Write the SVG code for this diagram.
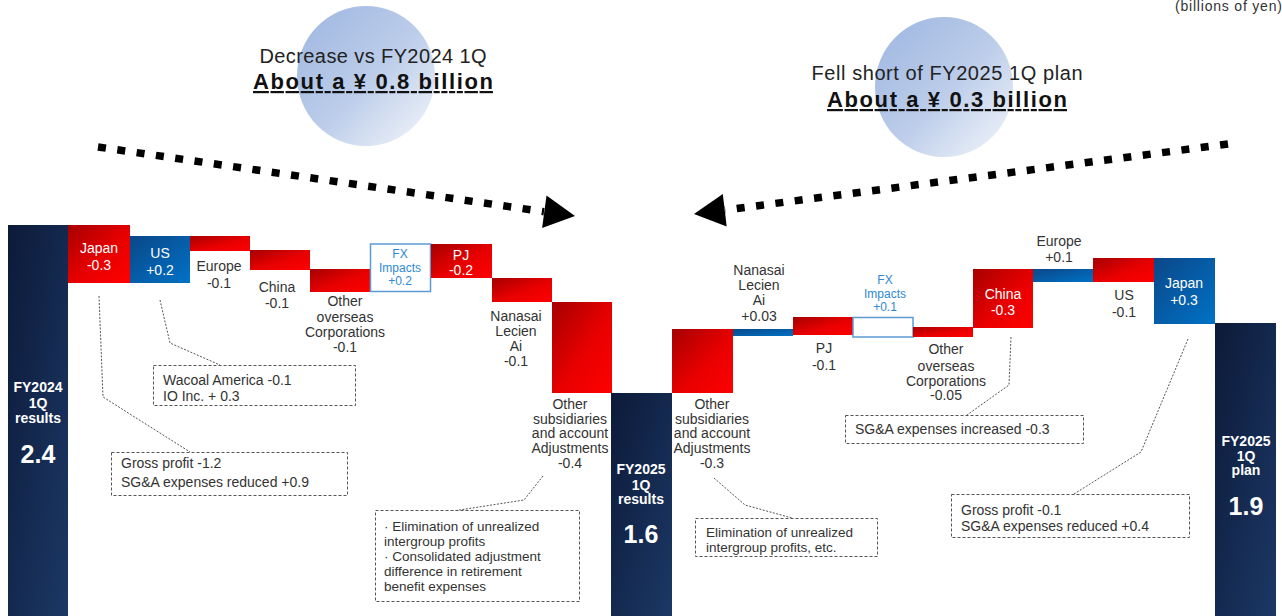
<svg xmlns="http://www.w3.org/2000/svg" width="1282" height="616" viewBox="0 0 1282 616">
<defs>
<linearGradient id="gNavy" x1="0" y1="0" x2="1" y2="1">
<stop offset="0" stop-color="#0c1a38"/><stop offset="1" stop-color="#1c3866"/>
</linearGradient>
<linearGradient id="gRed" x1="0" y1="0" x2="1" y2="1">
<stop offset="0" stop-color="#a60000"/><stop offset="0.55" stop-color="#e80000"/><stop offset="1" stop-color="#ff0000"/>
</linearGradient>
<linearGradient id="gBlue" x1="0" y1="0" x2="1" y2="1">
<stop offset="0" stop-color="#0b4788"/><stop offset="1" stop-color="#0072c6"/>
</linearGradient>
<linearGradient id="gCircle" x1="0.15" y1="0.15" x2="0.9" y2="0.9">
<stop offset="0" stop-color="#a6bce3"/><stop offset="0.5" stop-color="#bccdea"/><stop offset="1" stop-color="#eaeff8"/>
</linearGradient>
<style>
text{font-family:"Liberation Sans",Arial,sans-serif}
.lbl{font-size:14px;fill:#333;text-anchor:middle}
.wl{font-size:14px;fill:#fff;text-anchor:middle}
.fx{font-size:12px;fill:#2f88d4;text-anchor:middle}
.tot{font-size:14px;font-weight:bold;fill:#fff;text-anchor:middle}
.big{font-size:25px;font-weight:bold;fill:#fff;text-anchor:middle}
.note{font-size:14px;fill:#333}
.note2{font-size:13.5px;fill:#333}
.navy{fill:url(#gNavy)}
.red{fill:url(#gRed)}
.blue{fill:url(#gBlue)}
.fxbox{fill:#fff;stroke:#5b9bd5;stroke-width:1.5}
.box{fill:#fff;stroke:#555;stroke-width:1;stroke-dasharray:3 2}
.lead{fill:none;stroke:#555;stroke-width:1;stroke-dasharray:2 1.5}
.darr{fill:none;stroke:#000;stroke-width:7.5;stroke-dasharray:8 11.5}
.head{fill:#000}
.circ{fill:url(#gCircle)}
.h1{font-size:20px;fill:#222;text-anchor:middle}
.h2{font-size:22px;font-weight:bold;fill:#111;text-anchor:middle;text-decoration:underline}
</style>
</defs>
<rect width="1282" height="616" fill="#fff"/>
<text x="1175" y="11" style="font-size:14px;fill:#333;letter-spacing:0.8px">(billions of yen)</text>

<g id="headline-left">
<ellipse class="circ" cx="366" cy="76" rx="69" ry="70"/>
<text class="h1" x="373" y="63" textLength="227" lengthAdjust="spacing">Decrease vs FY2024 1Q</text>
<text class="h2" x="373" y="89" textLength="240" lengthAdjust="spacing">About a ¥ 0.8 billion</text>
</g>
<g id="headline-right">
<ellipse class="circ" cx="944" cy="87" rx="69" ry="70"/>
<text class="h1" x="947" y="80" textLength="271" lengthAdjust="spacing">Fell short of FY2025 1Q plan</text>
<text class="h2" x="947" y="107" textLength="240" lengthAdjust="spacing">About a ¥ 0.3 billion</text>
</g>

<g id="connectors">
<line class="darr" x1="98" y1="147" x2="544" y2="211.7"/>
<polygon class="head" points="575,216 542.1,228 546.5,195.5"/>
<line class="darr" x1="1228" y1="144" x2="725" y2="210"/>
<polygon class="head" points="694,214 722.8,194 726.7,226.5"/>
<polyline class="lead" points="160,300 170,343 220,365"/>
<polyline class="lead" points="99,296 103,397 190,452"/>
<polyline class="lead" points="543,476 524,500 453,511"/>
<polyline class="lead" points="714,478 745,505 792,518"/>
<polyline class="lead" points="1011,337 1009,385 967,415"/>
<polyline class="lead" points="1188,339 1141,452 1074,494"/>
</g>

<g id="fy2024-results">
<rect class="navy" x="8" y="225" width="60" height="391"/>
<text class="tot" x="38" y="392">FY2024</text>
<text class="tot" x="38" y="408">1Q</text>
<text class="tot" x="38" y="423">results</text>
<text class="big" x="38" y="463">2.4</text>
</g>
<g id="l-japan">
<rect class="red" x="68" y="225" width="62" height="58"/>
<text class="wl" x="99" y="253">Japan</text>
<text class="wl" x="99" y="270">-0.3</text>
</g>
<g id="l-us">
<rect class="blue" x="130" y="236" width="60" height="47"/>
<text class="wl" x="160" y="258">US</text>
<text class="wl" x="160" y="275">+0.2</text>
</g>
<g id="l-europe">
<rect class="red" x="190" y="236" width="60" height="15"/>
<text class="lbl" x="219" y="271">Europe</text>
<text class="lbl" x="219" y="288">-0.1</text>
</g>
<g id="l-china">
<rect class="red" x="250" y="250" width="60" height="20"/>
<text class="lbl" x="277" y="292">China</text>
<text class="lbl" x="277" y="308">-0.1</text>
</g>
<g id="l-other-overseas">
<rect class="red" x="310" y="269" width="60" height="23"/>
<text class="lbl" x="345" y="306">Other</text>
<text class="lbl" x="345" y="322">overseas</text>
<text class="lbl" x="345" y="337">Corporations</text>
<text class="lbl" x="345" y="352">-0.1</text>
</g>
<g id="l-fx">
<rect class="fxbox" x="370.5" y="244" width="60" height="47.5"/>
<text class="fx" x="400" y="258">FX</text>
<text class="fx" x="400" y="272">Impacts</text>
<text class="fx" x="400" y="285">+0.2</text>
</g>
<g id="l-pj">
<rect class="red" x="431" y="244" width="61" height="34"/>
<text class="wl" x="461" y="260">PJ</text>
<text class="wl" x="461" y="275">-0.2</text>
</g>
<g id="l-nanasai">
<rect class="red" x="492" y="278" width="60" height="24"/>
<text class="lbl" x="516" y="321">Nanasai</text>
<text class="lbl" x="516" y="336">Lecien</text>
<text class="lbl" x="516" y="351">Ai</text>
<text class="lbl" x="516" y="366">-0.1</text>
</g>
<g id="l-other-subs">
<rect class="red" x="552" y="302" width="60" height="91"/>
<text class="lbl" x="570" y="409">Other</text>
<text class="lbl" x="570" y="424">subsidiaries</text>
<text class="lbl" x="570" y="438">and account</text>
<text class="lbl" x="570" y="453">Adjustments</text>
<text class="lbl" x="570" y="468">-0.4</text>
</g>
<g id="fy2025-results">
<rect class="navy" x="611" y="393" width="61" height="223"/>
<text class="tot" x="641" y="474">FY2025</text>
<text class="tot" x="641" y="490">1Q</text>
<text class="tot" x="641" y="504">results</text>
<text class="big" x="641" y="543">1.6</text>
</g>
<g id="r-other-subs">
<rect class="red" x="672" y="329" width="61" height="64"/>
<text class="lbl" x="712" y="409">Other</text>
<text class="lbl" x="712" y="424">subsidiaries</text>
<text class="lbl" x="712" y="438">and account</text>
<text class="lbl" x="712" y="453">Adjustments</text>
<text class="lbl" x="712" y="468">-0.3</text>
</g>
<g id="r-nanasai">
<rect class="blue" x="733" y="329" width="60" height="7"/>
<text class="lbl" x="759" y="275">Nanasai</text>
<text class="lbl" x="759" y="290">Lecien</text>
<text class="lbl" x="759" y="305">Ai</text>
<text class="lbl" x="759" y="321">+0.03</text>
</g>
<g id="r-pj">
<rect class="red" x="793" y="317" width="60" height="18"/>
<text class="lbl" x="824" y="353">PJ</text>
<text class="lbl" x="824" y="370">-0.1</text>
</g>
<g id="r-fx">
<rect class="fxbox" x="853" y="317.5" width="60" height="19.5"/>
<text class="fx" x="885" y="284">FX</text>
<text class="fx" x="885" y="298">Impacts</text>
<text class="fx" x="885" y="311">+0.1</text>
</g>
<g id="r-other-overseas">
<rect class="red" x="913" y="327" width="60" height="10"/>
<text class="lbl" x="946" y="354">Other</text>
<text class="lbl" x="946" y="371">overseas</text>
<text class="lbl" x="946" y="386">Corporations</text>
<text class="lbl" x="946" y="400">-0.05</text>
</g>
<g id="r-china">
<rect class="red" x="973" y="269" width="60" height="59"/>
<text class="wl" x="1003" y="299">China</text>
<text class="wl" x="1003" y="315">-0.3</text>
</g>
<g id="r-europe">
<rect class="blue" x="1033" y="269" width="60" height="13"/>
<text class="lbl" x="1059" y="246">Europe</text>
<text class="lbl" x="1059" y="262">+0.1</text>
</g>
<g id="r-us">
<rect class="red" x="1093" y="258" width="61" height="24"/>
<text class="lbl" x="1124" y="300">US</text>
<text class="lbl" x="1124" y="317">-0.1</text>
</g>
<g id="r-japan">
<rect class="blue" x="1154" y="258" width="61" height="66"/>
<text class="wl" x="1184" y="288">Japan</text>
<text class="wl" x="1184" y="305">+0.3</text>
</g>
<g id="fy2025-plan">
<rect class="navy" x="1215" y="323" width="61" height="293"/>
<text class="tot" x="1246" y="446">FY2025</text>
<text class="tot" x="1246" y="461">1Q</text>
<text class="tot" x="1246" y="475">plan</text>
<text class="big" x="1246" y="515">1.9</text>
</g>

<g id="note-us">
<rect class="box" x="153.5" y="365.5" width="202" height="40"/>
<text class="note" x="163" y="385">Wacoal America -0.1</text>
<text class="note" x="163" y="401">IO Inc. + 0.3</text>
</g>
<g id="note-japan-left">
<rect class="box" x="111.5" y="452.5" width="236" height="43"/>
<text class="note" x="121" y="468">Gross profit -1.2</text>
<text class="note" x="121" y="487">SG&amp;A expenses reduced +0.9</text>
</g>
<g id="note-subs-left">
<rect class="box" x="375.5" y="510.5" width="204" height="91"/>
<text class="note2" x="384" y="531">· Elimination of unrealized</text>
<text class="note2" x="384" y="546">intergroup profits</text>
<text class="note2" x="384" y="561">· Consolidated adjustment</text>
<text class="note2" x="384" y="576">difference in retirement</text>
<text class="note2" x="384" y="591">benefit expenses</text>
</g>
<g id="note-subs-right">
<rect class="box" x="695.5" y="518.5" width="182" height="38"/>
<text class="note2" x="706" y="537">Elimination of unrealized</text>
<text class="note2" x="706" y="552">intergroup profits, etc.</text>
</g>
<g id="note-china-right">
<rect class="box" x="845.5" y="415.5" width="238" height="28"/>
<text class="note" x="855" y="434">SG&amp;A expenses increased -0.3</text>
</g>
<g id="note-japan-right">
<rect class="box" x="951.5" y="494.5" width="238" height="43"/>
<text class="note" x="961" y="515">Gross profit -0.1</text>
<text class="note" x="961" y="531">SG&amp;A expenses reduced +0.4</text>
</g>
</svg>
